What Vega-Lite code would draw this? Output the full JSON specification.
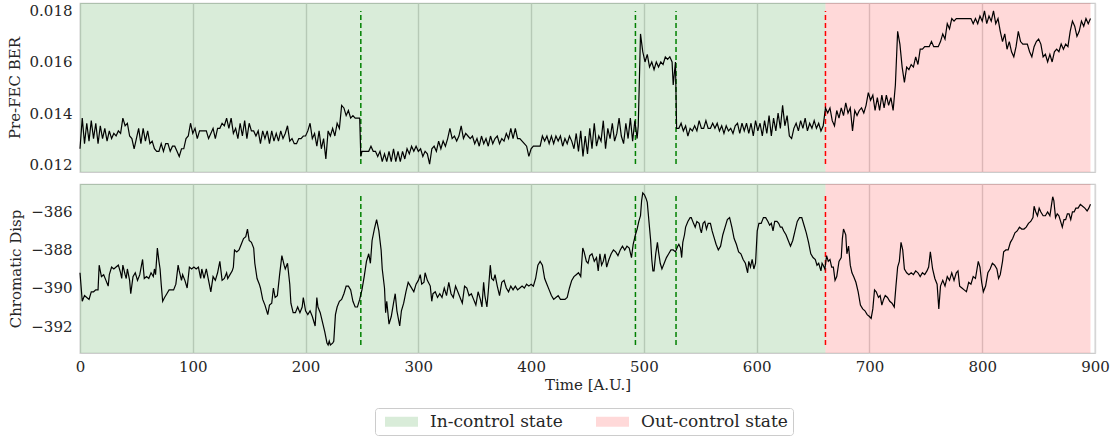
{
"$schema": "https://vega.github.io/schema/vega-lite/v6.json",
"padding": {"left": 6, "top": 2, "right": 5, "bottom": 0},
"config": {
  "font": "DejaVu Serif",
  "view": {"stroke": "#cccccc", "strokeWidth": 1.25},
  "axis": {"labelFont": "DejaVu Serif", "titleFont": "DejaVu Serif", "labelFontSize": 15, "titleFontSize": 15, "titleFontWeight": "normal", "labelColor": "#262626", "titleColor": "#262626", "ticks": false, "domain": false, "gridColor": "#d6d6d6", "gridWidth": 1.4, "gridOpacity": 1, "labelPadding": 8, "titlePadding": 7, "labelFlush": false},
  "concat": {"spacing": 10}
},
"datasets": {
  "regions": [{"start": 0, "end": 661, "state": "In-control state"}, {"start": 661, "end": 896, "state": "Out-control state"}],
  "vlines": [{"t": 249, "col": "#008000"}, {"t": 492.5, "col": "#008000"}, {"t": 528.5, "col": "#008000"}, {"t": 661, "col": "#ff0000"}],
  "ber": [
{"t":0,"v":0.0126},{"t":2,"v":0.0138},{"t":4,"v":0.0128},{"t":6,"v":0.0136},{"t":8,"v":0.0129},{"t":10,"v":0.0137},{"t":12,"v":0.0130},{"t":14,"v":0.0136},{"t":16,"v":0.0128},{"t":18,"v":0.0135},{"t":20,"v":0.0130},{"t":22,"v":0.0134},{"t":24,"v":0.0129},{"t":26,"v":0.0133},{"t":28,"v":0.0130},{"t":30,"v":0.0132},{"t":32,"v":0.0131},{"t":34,"v":0.0133},{"t":36,"v":0.0132},{"t":38,"v":0.0138},{"t":40,"v":0.0135},{"t":42,"v":0.0136},{"t":44,"v":0.0131},{"t":46,"v":0.0130},{"t":48,"v":0.0126},{"t":50,"v":0.0130},{"t":52,"v":0.0134},{"t":54,"v":0.0128},{"t":56,"v":0.0134},{"t":58,"v":0.0129},{"t":60,"v":0.0133},{"t":62,"v":0.0128},{"t":64,"v":0.0129},{"t":66,"v":0.0126},{"t":68,"v":0.0125},{"t":70,"v":0.0125},{"t":72,"v":0.0128},{"t":74,"v":0.0125},{"t":76,"v":0.0128},{"t":78,"v":0.0128},{"t":80,"v":0.0125},{"t":82,"v":0.0127},{"t":84,"v":0.0127},{"t":86,"v":0.0125},{"t":88,"v":0.0123},{"t":90,"v":0.0126},{"t":92,"v":0.0126},{"t":94,"v":0.0130},{"t":96,"v":0.0131},{"t":98,"v":0.0136},{"t":100,"v":0.0132},
{"t":102,"v":0.0134},{"t":104,"v":0.0130},{"t":106,"v":0.0133},{"t":108,"v":0.0133},{"t":110,"v":0.0133},{"t":112,"v":0.0133},{"t":114,"v":0.0130},{"t":116,"v":0.0132},{"t":118,"v":0.0134},{"t":120,"v":0.0130},{"t":122,"v":0.0134},{"t":124,"v":0.0134},{"t":126,"v":0.0136},{"t":128,"v":0.0135},{"t":130,"v":0.0138},{"t":132,"v":0.0134},{"t":134,"v":0.0138},{"t":136,"v":0.0132},{"t":138,"v":0.0134},{"t":140,"v":0.0130},{"t":142,"v":0.0136},{"t":144,"v":0.0131},{"t":146,"v":0.0137},{"t":148,"v":0.0130},{"t":150,"v":0.0136},{"t":152,"v":0.0133},{"t":154,"v":0.0133},{"t":156,"v":0.0131},{"t":158,"v":0.0133},{"t":160,"v":0.0128},{"t":162,"v":0.0133},{"t":164,"v":0.0130},{"t":166,"v":0.0133},{"t":168,"v":0.0128},{"t":170,"v":0.0133},{"t":172,"v":0.0129},{"t":174,"v":0.0132},{"t":176,"v":0.0129},{"t":178,"v":0.0133},{"t":180,"v":0.0130},{"t":182,"v":0.0132},{"t":184,"v":0.0135},{"t":186,"v":0.0129},{"t":188,"v":0.0130},{"t":190,"v":0.0128},{"t":192,"v":0.0128},{"t":194,"v":0.0130},{"t":196,"v":0.0130},{"t":198,"v":0.0131},{"t":200,"v":0.0131},
{"t":202,"v":0.0133},{"t":204,"v":0.0136},{"t":206,"v":0.0130},{"t":208,"v":0.0132},{"t":210,"v":0.0127},{"t":212,"v":0.0133},{"t":214,"v":0.0126},{"t":216,"v":0.0130},{"t":218,"v":0.0122},{"t":220,"v":0.0133},{"t":222,"v":0.0131},{"t":224,"v":0.0134},{"t":226,"v":0.0131},{"t":228,"v":0.0136},{"t":230,"v":0.0134},{"t":232,"v":0.0143},{"t":234,"v":0.0142},{"t":236,"v":0.0139},{"t":238,"v":0.0141},{"t":240,"v":0.0138},{"t":242,"v":0.0139},{"t":244,"v":0.0138},{"t":246,"v":0.0138},{"t":248,"v":0.0138},{"t":249,"v":0.0123},{"t":250,"v":0.0125},{"t":252,"v":0.0125},{"t":254,"v":0.0125},{"t":256,"v":0.0125},{"t":258,"v":0.0127},{"t":260,"v":0.0125},{"t":262,"v":0.0125},{"t":264,"v":0.0123},{"t":266,"v":0.0125},{"t":268,"v":0.0121},{"t":270,"v":0.0124},{"t":272,"v":0.0121},{"t":274,"v":0.0125},{"t":276,"v":0.0121},{"t":278,"v":0.0126},{"t":280,"v":0.0121},{"t":282,"v":0.0125},{"t":284,"v":0.0121},{"t":286,"v":0.0125},{"t":288,"v":0.0122},{"t":290,"v":0.0126},{"t":292,"v":0.0124},{"t":294,"v":0.0127},{"t":296,"v":0.0125},{"t":298,"v":0.0127},{"t":300,"v":0.0125},
{"t":302,"v":0.0126},{"t":304,"v":0.0123},{"t":306,"v":0.0125},{"t":308,"v":0.0124},{"t":310,"v":0.0120},{"t":312,"v":0.0126},{"t":314,"v":0.0127},{"t":316,"v":0.0125},{"t":318,"v":0.0129},{"t":320,"v":0.0126},{"t":322,"v":0.0129},{"t":324,"v":0.0127},{"t":326,"v":0.0130},{"t":328,"v":0.0134},{"t":330,"v":0.0130},{"t":332,"v":0.0131},{"t":334,"v":0.0129},{"t":336,"v":0.0131},{"t":338,"v":0.0135},{"t":340,"v":0.0130},{"t":342,"v":0.0132},{"t":344,"v":0.0131},{"t":346,"v":0.0130},{"t":348,"v":0.0131},{"t":350,"v":0.0128},{"t":352,"v":0.0130},{"t":354,"v":0.0127},{"t":356,"v":0.0131},{"t":358,"v":0.0128},{"t":360,"v":0.0130},{"t":362,"v":0.0127},{"t":364,"v":0.0131},{"t":366,"v":0.0128},{"t":368,"v":0.0130},{"t":370,"v":0.0131},{"t":372,"v":0.0128},{"t":374,"v":0.0130},{"t":376,"v":0.0129},{"t":378,"v":0.0132},{"t":380,"v":0.0130},{"t":382,"v":0.0134},{"t":384,"v":0.0130},{"t":386,"v":0.0134},{"t":388,"v":0.0130},{"t":390,"v":0.0130},{"t":392,"v":0.0129},{"t":394,"v":0.0128},{"t":396,"v":0.0127},{"t":398,"v":0.0123},{"t":400,"v":0.0126},
{"t":402,"v":0.0127},{"t":404,"v":0.0127},{"t":406,"v":0.0127},{"t":408,"v":0.0127},{"t":410,"v":0.0131},{"t":412,"v":0.0129},{"t":414,"v":0.0131},{"t":416,"v":0.0128},{"t":418,"v":0.0131},{"t":420,"v":0.0128},{"t":422,"v":0.0131},{"t":424,"v":0.0129},{"t":426,"v":0.0131},{"t":428,"v":0.0127},{"t":430,"v":0.0130},{"t":432,"v":0.0128},{"t":434,"v":0.0131},{"t":436,"v":0.0129},{"t":438,"v":0.0126},{"t":440,"v":0.0132},{"t":442,"v":0.0125},{"t":444,"v":0.0133},{"t":446,"v":0.0123},{"t":448,"v":0.0131},{"t":450,"v":0.0124},{"t":452,"v":0.0134},{"t":454,"v":0.0126},{"t":456,"v":0.0136},{"t":458,"v":0.0127},{"t":460,"v":0.0131},{"t":462,"v":0.0129},{"t":464,"v":0.0137},{"t":466,"v":0.0126},{"t":468,"v":0.0134},{"t":470,"v":0.0130},{"t":472,"v":0.0136},{"t":474,"v":0.0129},{"t":476,"v":0.0132},{"t":478,"v":0.0138},{"t":480,"v":0.0131},{"t":482,"v":0.0128},{"t":484,"v":0.0136},{"t":486,"v":0.0130},{"t":488,"v":0.0138},{"t":490,"v":0.0129},{"t":492,"v":0.0137},{"t":494,"v":0.0130},{"t":495,"v":0.0135},{"t":497,"v":0.0171},{"t":499,"v":0.0164},{"t":501,"v":0.0160},
{"t":503,"v":0.0163},{"t":505,"v":0.0158},{"t":507,"v":0.0160},{"t":509,"v":0.0157},{"t":511,"v":0.0160},{"t":513,"v":0.0158},{"t":515,"v":0.0160},{"t":517,"v":0.0159},{"t":519,"v":0.0162},{"t":521,"v":0.0161},{"t":523,"v":0.0162},{"t":525,"v":0.0160},{"t":526,"v":0.0151},{"t":528,"v":0.0160},{"t":529,"v":0.0134},{"t":531,"v":0.0134},{"t":533,"v":0.0136},{"t":535,"v":0.0133},{"t":537,"v":0.0135},{"t":539,"v":0.0131},{"t":541,"v":0.0134},{"t":543,"v":0.0133},{"t":545,"v":0.0135},{"t":547,"v":0.0133},{"t":549,"v":0.0137},{"t":551,"v":0.0134},{"t":553,"v":0.0134},{"t":555,"v":0.0137},{"t":557,"v":0.0134},{"t":559,"v":0.0134},{"t":561,"v":0.0136},{"t":563,"v":0.0134},{"t":565,"v":0.0136},{"t":567,"v":0.0133},{"t":569,"v":0.0135},{"t":571,"v":0.0132},{"t":573,"v":0.0135},{"t":575,"v":0.0133},{"t":577,"v":0.0134},{"t":579,"v":0.0132},{"t":581,"v":0.0135},{"t":583,"v":0.0136},{"t":585,"v":0.0132},{"t":587,"v":0.0136},{"t":589,"v":0.0133},{"t":591,"v":0.0136},{"t":593,"v":0.0132},{"t":595,"v":0.0136},{"t":597,"v":0.0131},{"t":599,"v":0.0137},
{"t":601,"v":0.0133},{"t":603,"v":0.0136},{"t":605,"v":0.0131},{"t":607,"v":0.0137},{"t":609,"v":0.0132},{"t":611,"v":0.0139},{"t":613,"v":0.0131},{"t":615,"v":0.0138},{"t":617,"v":0.0133},{"t":619,"v":0.0140},{"t":621,"v":0.0134},{"t":623,"v":0.0143},{"t":625,"v":0.0135},{"t":627,"v":0.0139},{"t":629,"v":0.0131},{"t":631,"v":0.0130},{"t":633,"v":0.0134},{"t":635,"v":0.0136},{"t":637,"v":0.0133},{"t":639,"v":0.0137},{"t":641,"v":0.0134},{"t":643,"v":0.0138},{"t":645,"v":0.0133},{"t":647,"v":0.0136},{"t":649,"v":0.0134},{"t":651,"v":0.0137},{"t":653,"v":0.0134},{"t":655,"v":0.0136},{"t":657,"v":0.0133},{"t":659,"v":0.0135},{"t":661,"v":0.0142},{"t":663,"v":0.0140},{"t":665,"v":0.0142},{"t":667,"v":0.0137},{"t":669,"v":0.0135},{"t":671,"v":0.0141},{"t":673,"v":0.0138},{"t":675,"v":0.0142},{"t":677,"v":0.0139},{"t":679,"v":0.0144},{"t":681,"v":0.0140},{"t":683,"v":0.0142},{"t":685,"v":0.0133},{"t":687,"v":0.0141},{"t":689,"v":0.0139},{"t":691,"v":0.0141},{"t":693,"v":0.0142},{"t":695,"v":0.0140},{"t":697,"v":0.0143},{"t":699,"v":0.0148},
{"t":701,"v":0.0145},{"t":703,"v":0.0147},{"t":705,"v":0.0141},{"t":707,"v":0.0146},{"t":709,"v":0.0141},{"t":711,"v":0.0147},{"t":713,"v":0.0142},{"t":715,"v":0.0147},{"t":717,"v":0.0143},{"t":719,"v":0.0146},{"t":721,"v":0.0141},{"t":723,"v":0.0151},{"t":725,"v":0.0172},{"t":727,"v":0.0167},{"t":729,"v":0.0158},{"t":731,"v":0.0152},{"t":733,"v":0.0158},{"t":735,"v":0.0157},{"t":737,"v":0.0159},{"t":739,"v":0.0158},{"t":741,"v":0.0162},{"t":743,"v":0.0159},{"t":745,"v":0.0165},{"t":747,"v":0.0165},{"t":749,"v":0.0166},{"t":751,"v":0.0166},{"t":753,"v":0.0166},{"t":755,"v":0.0168},{"t":757,"v":0.0166},{"t":759,"v":0.0166},{"t":761,"v":0.0166},{"t":763,"v":0.0168},{"t":765,"v":0.0171},{"t":767,"v":0.0169},{"t":769,"v":0.0175},{"t":771,"v":0.0173},{"t":773,"v":0.0177},{"t":775,"v":0.0176},{"t":777,"v":0.0177},{"t":780,"v":0.0177},{"t":785,"v":0.0177},{"t":790,"v":0.0177},{"t":792,"v":0.0175},{"t":794,"v":0.0177},{"t":796,"v":0.0175},{"t":798,"v":0.0178},{"t":800,"v":0.0176},
{"t":802,"v":0.0180},{"t":804,"v":0.0175},{"t":806,"v":0.0178},{"t":808,"v":0.0176},{"t":810,"v":0.0180},{"t":812,"v":0.0175},{"t":814,"v":0.0177},{"t":816,"v":0.0172},{"t":818,"v":0.0168},{"t":820,"v":0.0171},{"t":822,"v":0.0165},{"t":824,"v":0.0168},{"t":826,"v":0.0164},{"t":828,"v":0.0162},{"t":830,"v":0.0166},{"t":832,"v":0.0172},{"t":834,"v":0.0168},{"t":836,"v":0.0167},{"t":838,"v":0.0167},{"t":840,"v":0.0167},{"t":842,"v":0.0164},{"t":844,"v":0.0162},{"t":846,"v":0.0166},{"t":848,"v":0.0168},{"t":850,"v":0.0169},{"t":852,"v":0.0167},{"t":854,"v":0.0162},{"t":856,"v":0.0163},{"t":858,"v":0.0160},{"t":860,"v":0.0163},{"t":862,"v":0.0160},{"t":864,"v":0.0164},{"t":866,"v":0.0165},{"t":868,"v":0.0164},{"t":870,"v":0.0167},{"t":872,"v":0.0165},{"t":874,"v":0.0167},{"t":876,"v":0.0166},{"t":878,"v":0.0172},{"t":880,"v":0.0176},{"t":882,"v":0.0174},{"t":884,"v":0.0170},{"t":886,"v":0.0172},{"t":888,"v":0.0176},{"t":890,"v":0.0174},{"t":892,"v":0.0177},{"t":894,"v":0.0175},{"t":896,"v":0.0177}
  ],
  "cd": [
{"t":0,"v":-389.2},{"t":2,"v":-390.7},{"t":4,"v":-390.4},{"t":6,"v":-390.5},{"t":8,"v":-390.6},{"t":10,"v":-390.2},{"t":12,"v":-390.2},{"t":14,"v":-390.1},{"t":16,"v":-390.1},{"t":17,"v":-388.8},{"t":19,"v":-389.4},{"t":21,"v":-389.3},{"t":23,"v":-389.6},{"t":25,"v":-389.9},{"t":26,"v":-389.3},{"t":28,"v":-388.9},{"t":30,"v":-389.0},{"t":32,"v":-388.9},{"t":34,"v":-388.8},{"t":36,"v":-389.2},{"t":37,"v":-389.5},{"t":38,"v":-388.8},{"t":40,"v":-389.3},{"t":41,"v":-389.5},{"t":42,"v":-389.0},{"t":44,"v":-389.6},{"t":45,"v":-390.3},{"t":47,"v":-389.4},{"t":49,"v":-389.2},{"t":51,"v":-389.6},{"t":53,"v":-389.3},{"t":55.5,"v":-388.5},{"t":57,"v":-389.5},{"t":59,"v":-389.4},{"t":61,"v":-389.5},{"t":63,"v":-389.2},{"t":65,"v":-389.4},{"t":66,"v":-389.0},{"t":67,"v":-389.3},{"t":68.6,"v":-387.9},{"t":70,"v":-388.6},{"t":71,"v":-389.0},{"t":72,"v":-389.8},{"t":73.3,"v":-390.7},{"t":75,"v":-390.5},{"t":77,"v":-390.3},{"t":79,"v":-390.1},{"t":81,"v":-390.1},{"t":83,"v":-390.1},{"t":85,"v":-389.8},{"t":87,"v":-388.8},{"t":88,"v":-389.1},{"t":90,"v":-389.6},{"t":91,"v":-389.3},{"t":93,"v":-389.6},{"t":95,"v":-390.0},{"t":97,"v":-388.9},{"t":99,"v":-389.0},
{"t":101,"v":-388.9},{"t":103,"v":-389.0},{"t":105,"v":-388.9},{"t":107,"v":-389.5},{"t":108,"v":-389.0},{"t":110,"v":-389.5},{"t":112,"v":-389.0},{"t":114,"v":-389.6},{"t":116,"v":-390.2},{"t":118,"v":-389.4},{"t":120,"v":-389.6},{"t":122,"v":-389.2},{"t":124,"v":-388.6},{"t":126,"v":-389.6},{"t":128,"v":-389.5},{"t":130,"v":-389.2},{"t":131,"v":-389.5},{"t":133,"v":-389.3},{"t":135,"v":-389.1},{"t":136,"v":-388.9},{"t":137,"v":-388.0},{"t":139,"v":-388.1},{"t":141,"v":-388.0},{"t":143,"v":-387.7},{"t":145,"v":-387.4},{"t":147,"v":-387.3},{"t":148.5,"v":-386.9},{"t":150,"v":-387.5},{"t":152,"v":-387.6},{"t":154,"v":-387.9},{"t":155,"v":-388.7},{"t":157,"v":-389.5},{"t":159,"v":-389.8},{"t":160,"v":-390.0},{"t":162,"v":-390.6},{"t":164,"v":-390.9},{"t":165,"v":-391.1},{"t":166.5,"v":-391.4},{"t":168,"v":-390.9},{"t":170,"v":-390.8},{"t":171.5,"v":-390.0},{"t":173,"v":-390.5},{"t":175,"v":-390.4},{"t":177,"v":-389.3},{"t":179,"v":-388.3},{"t":181,"v":-388.8},{"t":182,"v":-389.0},{"t":184,"v":-388.7},{"t":186,"v":-389.8},{"t":187,"v":-390.8},{"t":189,"v":-391.3},{"t":191,"v":-391.3},{"t":193,"v":-391.0},{"t":195,"v":-391.3},{"t":197,"v":-391.0},{"t":198,"v":-390.5},
{"t":200,"v":-391.2},{"t":202,"v":-391.4},{"t":204,"v":-391.2},{"t":206,"v":-391.5},{"t":208.5,"v":-392.0},{"t":210,"v":-390.5},{"t":211,"v":-391.0},{"t":213,"v":-391.3},{"t":215,"v":-391.8},{"t":217,"v":-392.3},{"t":219,"v":-392.9},{"t":220,"v":-393.0},{"t":221,"v":-392.8},{"t":222,"v":-393.0},{"t":224,"v":-392.9},{"t":225,"v":-392.8},{"t":226.5,"v":-391.4},{"t":228,"v":-391.0},{"t":230,"v":-390.7},{"t":232,"v":-390.6},{"t":234,"v":-390.3},{"t":236,"v":-389.9},{"t":238,"v":-389.9},{"t":240,"v":-390.1},{"t":242,"v":-390.7},{"t":244,"v":-391.0},{"t":246,"v":-391.0},{"t":248,"v":-390.6},{"t":250,"v":-390.1},{"t":252,"v":-389.4},{"t":254,"v":-388.6},{"t":256,"v":-388.2},{"t":257.5,"v":-388.7},{"t":259,"v":-387.5},{"t":261,"v":-386.9},{"t":263,"v":-386.4},{"t":265,"v":-387.0},{"t":267,"v":-388.0},{"t":268,"v":-389.0},{"t":270,"v":-390.0},{"t":271,"v":-391.3},{"t":272,"v":-390.7},{"t":274,"v":-391.9},{"t":276,"v":-391.5},{"t":278,"v":-390.8},{"t":279.5,"v":-390.3},{"t":281,"v":-391.2},{"t":283.5,"v":-392.0},{"t":285,"v":-391.2},{"t":287,"v":-390.8},{"t":289,"v":-390.2},{"t":291,"v":-389.7},{"t":293,"v":-389.9},{"t":296,"v":-390.2},{"t":298,"v":-389.8},
{"t":300,"v":-389.6},{"t":301.7,"v":-389.3},{"t":303,"v":-389.8},{"t":305,"v":-389.7},{"t":306,"v":-389.2},{"t":308,"v":-389.6},{"t":310.6,"v":-389.9},{"t":311.9,"v":-390.7},{"t":313,"v":-390.3},{"t":315,"v":-390.2},{"t":317,"v":-390.5},{"t":319,"v":-390.3},{"t":321,"v":-390.5},{"t":323,"v":-390.0},{"t":325,"v":-390.4},{"t":327,"v":-389.7},{"t":329,"v":-390.3},{"t":331,"v":-390.5},{"t":333,"v":-389.9},{"t":335,"v":-390.2},{"t":337,"v":-390.5},{"t":339,"v":-390.8},{"t":341,"v":-389.9},{"t":343,"v":-390.0},{"t":345,"v":-390.4},{"t":347,"v":-390.3},{"t":349,"v":-390.6},{"t":351,"v":-390.9},{"t":353,"v":-390.2},{"t":355,"v":-390.6},{"t":356.4,"v":-391.0},{"t":357.9,"v":-389.7},{"t":359,"v":-390.4},{"t":360.8,"v":-391.0},{"t":362,"v":-390.2},{"t":363.8,"v":-388.8},{"t":365,"v":-389.5},{"t":366.7,"v":-389.6},{"t":368,"v":-389.3},{"t":370,"v":-389.9},{"t":372,"v":-390.4},{"t":374,"v":-389.7},{"t":376,"v":-389.6},{"t":378,"v":-390.0},{"t":380,"v":-390.2},{"t":382,"v":-389.9},{"t":384,"v":-390.1},{"t":386,"v":-389.9},{"t":388,"v":-390.1},{"t":390,"v":-390.0},{"t":392,"v":-389.9},{"t":394,"v":-390.0},{"t":396,"v":-389.8},{"t":398,"v":-389.9},
{"t":400,"v":-389.8},{"t":402,"v":-389.9},{"t":404,"v":-389.5},{"t":406,"v":-388.8},{"t":408,"v":-388.6},{"t":410,"v":-388.8},{"t":412,"v":-389.5},{"t":414,"v":-389.8},{"t":416,"v":-390.1},{"t":418,"v":-390.4},{"t":420,"v":-390.6},{"t":422,"v":-390.5},{"t":424,"v":-390.4},{"t":426,"v":-390.6},{"t":428,"v":-390.6},{"t":430,"v":-390.6},{"t":432,"v":-390.5},{"t":434,"v":-390.0},{"t":436,"v":-389.6},{"t":438,"v":-389.4},{"t":440,"v":-389.3},{"t":442,"v":-389.2},{"t":444,"v":-389.4},{"t":445.8,"v":-387.9},{"t":447,"v":-388.1},{"t":449,"v":-388.6},{"t":450.5,"v":-388.7},{"t":452,"v":-388.3},{"t":454,"v":-388.2},{"t":456,"v":-388.6},{"t":458,"v":-388.4},{"t":459.5,"v":-389.1},{"t":461,"v":-388.2},{"t":462.5,"v":-388.8},{"t":464,"v":-388.6},{"t":465.5,"v":-388.2},{"t":467,"v":-388.9},{"t":469,"v":-388.5},{"t":471,"v":-388.2},{"t":473,"v":-388.0},{"t":475,"v":-388.1},{"t":477,"v":-388.3},{"t":479,"v":-388.0},{"t":481,"v":-387.8},{"t":483,"v":-388.0},{"t":485,"v":-387.8},{"t":487,"v":-387.9},{"t":489,"v":-388.4},{"t":490.5,"v":-387.7},{"t":492.5,"v":-387.2},{"t":494,"v":-386.9},{"t":495.5,"v":-386.5},{"t":497,"v":-386.2},{"t":498,"v":-385.4},{"t":499,"v":-385.0},
{"t":500.5,"v":-385.1},{"t":502,"v":-385.3},{"t":503,"v":-385.5},{"t":504.5,"v":-386.5},{"t":506,"v":-387.5},{"t":507,"v":-388.5},{"t":508,"v":-389.1},{"t":509,"v":-389.1},{"t":510.5,"v":-388.2},{"t":512,"v":-387.6},{"t":513,"v":-388.1},{"t":514.5,"v":-388.7},{"t":516,"v":-389.0},{"t":518,"v":-388.7},{"t":520,"v":-388.4},{"t":522,"v":-388.2},{"t":524,"v":-388.0},{"t":526,"v":-388.0},{"t":528,"v":-388.1},{"t":530,"v":-387.8},{"t":531,"v":-387.7},{"t":532.5,"v":-387.9},{"t":533.5,"v":-388.4},{"t":534.5,"v":-387.6},{"t":536,"v":-387.2},{"t":537,"v":-386.8},{"t":539,"v":-386.5},{"t":541,"v":-386.3},{"t":542,"v":-386.3},{"t":544,"v":-386.6},{"t":545.5,"v":-386.8},{"t":547,"v":-386.5},{"t":549,"v":-386.6},{"t":550,"v":-386.9},{"t":551,"v":-387.1},{"t":552.5,"v":-386.6},{"t":554,"v":-386.5},{"t":555.5,"v":-386.9},{"t":557,"v":-386.6},{"t":559,"v":-386.6},{"t":560.5,"v":-387.0},{"t":562,"v":-387.3},{"t":564,"v":-387.7},{"t":566,"v":-388.0},{"t":568,"v":-387.8},{"t":570,"v":-387.2},{"t":572,"v":-386.8},{"t":574,"v":-386.4},{"t":576,"v":-386.3},{"t":578,"v":-386.8},{"t":580,"v":-387.4},{"t":582,"v":-387.7},{"t":584,"v":-388.1},{"t":586,"v":-388.2},{"t":588,"v":-388.5},{"t":590,"v":-388.7},{"t":592,"v":-389.2},{"t":593,"v":-388.6},{"t":594.5,"v":-388.9},{"t":596,"v":-388.5},{"t":597.5,"v":-389.0},{"t":599,"v":-388.7},
{"t":600.5,"v":-387.0},{"t":602,"v":-386.6},{"t":604,"v":-386.6},{"t":606,"v":-386.3},{"t":608,"v":-386.3},{"t":610,"v":-386.5},{"t":611.5,"v":-386.7},{"t":613,"v":-386.6},{"t":614.5,"v":-387.0},{"t":616,"v":-386.5},{"t":618,"v":-386.5},{"t":619.5,"v":-386.6},{"t":621,"v":-386.8},{"t":622.5,"v":-386.8},{"t":624,"v":-387.0},{"t":626,"v":-387.2},{"t":628,"v":-387.5},{"t":630,"v":-387.8},{"t":632,"v":-387.5},{"t":634,"v":-387.0},{"t":636,"v":-386.5},{"t":638,"v":-386.3},{"t":640,"v":-386.3},{"t":642,"v":-386.7},{"t":644,"v":-387.1},{"t":646,"v":-387.6},{"t":648,"v":-388.2},{"t":650,"v":-388.4},{"t":652,"v":-388.5},{"t":653.5,"v":-388.8},{"t":655,"v":-388.7},{"t":657,"v":-389.1},{"t":658,"v":-388.7},{"t":659,"v":-388.8},{"t":660.5,"v":-389.0},{"t":662,"v":-388.3},{"t":663.5,"v":-388.6},{"t":665,"v":-388.5},{"t":666.5,"v":-388.9},{"t":668,"v":-388.9},{"t":669.5,"v":-389.6},{"t":671,"v":-389.4},{"t":673,"v":-388.6},{"t":675,"v":-388.4},{"t":676,"v":-387.4},{"t":677,"v":-386.9},{"t":679,"v":-387.2},{"t":680,"v":-388.2},{"t":681.5,"v":-387.8},{"t":683,"v":-388.8},{"t":684.5,"v":-389.2},{"t":686,"v":-389.4},{"t":688,"v":-389.7},{"t":690,"v":-390.2},{"t":692,"v":-390.9},{"t":694,"v":-391.1},{"t":696,"v":-391.2},{"t":698,"v":-391.4},
{"t":700,"v":-391.5},{"t":701.5,"v":-391.6},{"t":703,"v":-391.1},{"t":704.5,"v":-390.1},{"t":706,"v":-390.2},{"t":708,"v":-390.5},{"t":709.5,"v":-390.4},{"t":711,"v":-390.9},{"t":712.5,"v":-390.6},{"t":714,"v":-390.4},{"t":716,"v":-390.5},{"t":718,"v":-390.7},{"t":720,"v":-390.8},{"t":722,"v":-391.0},{"t":723.5,"v":-389.9},{"t":725,"v":-388.9},{"t":726.5,"v":-388.6},{"t":728,"v":-387.6},{"t":729.5,"v":-388.0},{"t":731,"v":-389.0},{"t":733,"v":-389.2},{"t":735,"v":-389.3},{"t":737,"v":-389.2},{"t":739,"v":-389.3},{"t":741,"v":-389.1},{"t":743,"v":-389.2},{"t":745,"v":-389.4},{"t":747,"v":-389.2},{"t":749,"v":-389.3},{"t":751,"v":-389.1},{"t":752.5,"v":-388.9},{"t":754,"v":-388.1},{"t":756,"v":-389.0},{"t":758,"v":-389.5},{"t":760,"v":-389.8},{"t":761.5,"v":-391.1},{"t":763,"v":-389.9},{"t":765,"v":-389.6},{"t":767,"v":-389.9},{"t":769,"v":-389.4},{"t":771,"v":-389.6},{"t":773,"v":-389.2},{"t":775,"v":-389.6},{"t":777,"v":-389.2},{"t":778.5,"v":-389.1},{"t":780,"v":-389.9},{"t":782,"v":-390.0},{"t":784,"v":-390.1},{"t":786,"v":-390.2},{"t":788,"v":-389.7},{"t":790,"v":-389.8},{"t":792,"v":-389.4},{"t":794,"v":-389.5},{"t":796.5,"v":-388.6},{"t":798,"v":-388.9},{"t":799.5,"v":-389.7},
{"t":801,"v":-390.2},{"t":803,"v":-389.9},{"t":805,"v":-389.2},{"t":807,"v":-389.0},{"t":809,"v":-388.7},{"t":811,"v":-388.8},{"t":813,"v":-389.0},{"t":814.5,"v":-389.5},{"t":816,"v":-389.3},{"t":818,"v":-388.6},{"t":819,"v":-388.1},{"t":821,"v":-388.0},{"t":823,"v":-388.0},{"t":825,"v":-387.6},{"t":827,"v":-387.4},{"t":829,"v":-387.1},{"t":831,"v":-387.0},{"t":833,"v":-386.8},{"t":835,"v":-386.9},{"t":837,"v":-386.9},{"t":839,"v":-386.8},{"t":841,"v":-386.6},{"t":843,"v":-386.5},{"t":845,"v":-386.3},{"t":846,"v":-385.7},{"t":847.5,"v":-386.0},{"t":849,"v":-386.2},{"t":850.5,"v":-385.8},{"t":852,"v":-386.0},{"t":854,"v":-386.2},{"t":856,"v":-386.2},{"t":858,"v":-386.0},{"t":860,"v":-386.2},{"t":861.5,"v":-385.6},{"t":862.5,"v":-385.2},{"t":863.5,"v":-385.4},{"t":865,"v":-386.3},{"t":866.5,"v":-386.1},{"t":868,"v":-386.2},{"t":869.5,"v":-386.5},{"t":871,"v":-386.8},{"t":872.5,"v":-386.4},{"t":874,"v":-386.4},{"t":875.5,"v":-386.1},{"t":877,"v":-386.1},{"t":878.5,"v":-386.4},{"t":880,"v":-386.0},{"t":881.5,"v":-386.0},{"t":883,"v":-385.8},{"t":885,"v":-385.8},{"t":887,"v":-385.6},{"t":889,"v":-385.7},{"t":891,"v":-385.8},{"t":893,"v":-385.95},{"t":894.5,"v":-385.8},{"t":896,"v":-385.6}
  ]
},
"vconcat": [
  {
    "width": 1015, "height": 169,
    "layer": [
      {"data": {"name": "regions"}, "mark": {"type": "rect", "opacity": 0.15},
       "encoding": {
         "x": {"field": "start", "type": "quantitative", "scale": {"domain": [0, 900], "nice": false, "zero": false}, "axis": {"labels": false, "title": null, "labelPadding": 0, "titlePadding": 0, "values": [0,100,200,300,400,500,600,700,800,900]}},
         "x2": {"field": "end"},
         "color": {"field": "state", "type": "nominal", "scale": {"domain": ["In-control state", "Out-control state"], "range": ["#008000", "#ff0000"]},
           "legend": {"title": null, "orient": "none", "legendX": 295, "legendY": 405, "direction": "horizontal", "symbolType": "M-3.3,-1L3.3,-1L3.3,1L-3.3,1Z", "symbolSize": 100, "symbolOffset": 13, "symbolOpacity": 0.15, "symbolStrokeWidth": 0, "labelFontSize": 17, "labelFont": "DejaVu Serif", "labelColor": "#262626", "columnPadding": 28, "labelOffset": 20, "strokeColor": "#cccccc", "cornerRadius": 3, "padding": 5, "fillColor": "white"}}
       }},
      {"data": {"name": "vlines"}, "mark": {"type": "rule", "strokeDash": [5, 3], "strokeWidth": 1.5},
       "encoding": {
         "x": {"field": "t", "type": "quantitative"},
         "y": {"datum": 0.012, "type": "quantitative", "scale": {"domain": [0.01169, 0.01831], "nice": false, "zero": false}},
         "y2": {"datum": 0.018},
         "stroke": {"field": "col", "type": "nominal", "scale": null}
       }},
      {"data": {"name": "ber"}, "mark": {"type": "line", "color": "black", "strokeWidth": 1.2},
       "encoding": {
         "x": {"field": "t", "type": "quantitative"},
         "y": {"field": "v", "type": "quantitative", "scale": {"domain": [0.01169, 0.01831], "nice": false, "zero": false}, "axis": {"values": [0.012, 0.014, 0.016, 0.018], "format": ".3f", "title": "Pre-FEC BER"}}
       }}
    ]
  },
  {
    "width": 1015, "height": 169,
    "layer": [
      {"data": {"name": "regions"}, "mark": {"type": "rect", "opacity": 0.15},
       "encoding": {
         "x": {"field": "start", "type": "quantitative", "scale": {"domain": [0, 900], "nice": false, "zero": false}, "axis": {"title": "Time [A.U.]", "values": [0,100,200,300,400,500,600,700,800,900], "labelPadding": 6, "titlePadding": 3}},
         "x2": {"field": "end"},
         "color": {"field": "state", "type": "nominal", "scale": {"domain": ["In-control state", "Out-control state"], "range": ["#008000", "#ff0000"]}}
       }},
      {"data": {"name": "vlines"}, "mark": {"type": "rule", "strokeDash": [5, 3], "strokeWidth": 1.5},
       "encoding": {
         "x": {"field": "t", "type": "quantitative"},
         "y": {"datum": -393, "type": "quantitative", "scale": {"domain": [-393.42, -384.53], "nice": false, "zero": false}},
         "y2": {"datum": -385},
         "stroke": {"field": "col", "type": "nominal", "scale": null}
       }},
      {"data": {"name": "cd"}, "mark": {"type": "line", "color": "black", "strokeWidth": 1.2},
       "encoding": {
         "x": {"field": "t", "type": "quantitative"},
         "y": {"field": "v", "type": "quantitative", "scale": {"domain": [-393.42, -384.53], "nice": false, "zero": false}, "axis": {"values": [-392, -390, -388, -386], "format": "d", "title": "Chromatic Disp"}}
       }}
    ]
  }
]
}
